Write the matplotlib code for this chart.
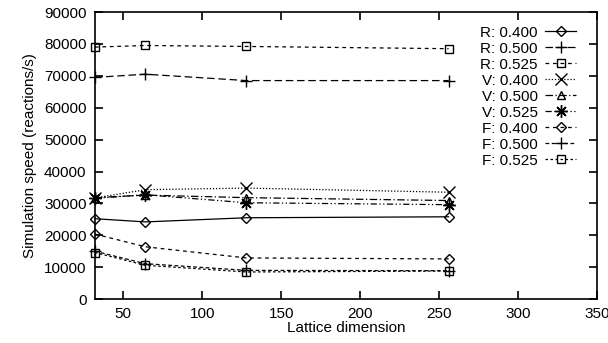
import matplotlib
matplotlib.use('Agg')
import matplotlib.pyplot as plt

plt.rcParams['font.family'] = ['Liberation Sans', 'DejaVu Sans']
plt.rcParams['font.size'] = 11

# lattice dimensions
dims = [32, 64, 128, 256]

r_400 = [25200, 24200, 25500, 25800]
r_500 = [69500, 70500, 68500, 68500]
r_525 = [79000, 79500, 79200, 78500]
v_400 = [31700, 34300, 34800, 33500]
v_500 = [31800, 32600, 31800, 30900]
v_525 = [31600, 32700, 30200, 29600]
f_400 = [20400, 16400, 12900, 12600]
f_500 = [15000, 11100, 9000, 8900]
f_525 = [14600, 10600, 8500, 8800]

labels = ['R: 0.400', 'R: 0.500', 'R: 0.525',
          'V: 0.400', 'V: 0.500', 'V: 0.525',
          'F: 0.400', 'F: 0.500', 'F: 0.525']
series = [r_400, r_500, r_525, v_400, v_500, v_525, f_400, f_500, f_525]
markers = ['D', '+', 's', 'x', '^', (8, 2, 0), 'D', '+', 's']
styles = ['-', (0, (6, 3)), (0, (3, 3)), (0, (1, 1.5)), (0, (6, 2, 1, 2)),
          (0, (5, 2, 1, 2, 1, 2)), (0, (3, 3)), (0, (3, 2)), (0, (2, 2))]
msizes = [5, 9, 6, 8, 6, 9, 5, 9, 6]

fig = plt.figure(figsize=(6.08, 3.43), dpi=100)
ax = fig.add_axes([0.156, 0.128, 0.826, 0.837])

for y, lab, m, ls, ms in zip(series, labels, markers, styles, msizes):
    ax.plot(dims, y, color='black', linestyle=ls, linewidth=0.9,
            marker=m, markersize=ms, markerfacecolor='none',
            markeredgecolor='black', markeredgewidth=1.0, label=lab,
            clip_on=False, zorder=3)

ax.set_xlim(32, 350)
ax.set_ylim(0, 90000)
ax.set_xticks([50, 100, 150, 200, 250, 300, 350])
ax.set_yticks(range(0, 90001, 10000))
ax.tick_params(direction='in', top=True, right=True, length=6, width=1.2, pad=6)
for sp in ax.spines.values():
    sp.set_linewidth(1.2)

ax.set_xlabel('Lattice dimension', labelpad=0)
ax.set_ylabel('Simulation speed (reactions/s)', labelpad=5)

leg = ax.legend(loc='upper right', bbox_to_anchor=(0.958, 0.952), frameon=False,
                markerfirst=False, handlelength=2.0, handletextpad=0.5,
                labelspacing=0.13, borderaxespad=0, borderpad=0, fontsize=11)

fig.savefig('out.png', dpi=100)
